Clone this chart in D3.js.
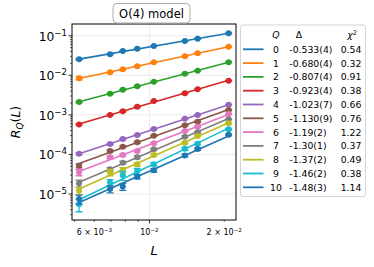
<!DOCTYPE html>
<html>
<head>
<meta charset="utf-8">
<script src="https://cdn.jsdelivr.net/npm/d3@7"></script>
<style>
  body { margin: 0; background: white; }
  svg { font-family: "DejaVu Sans", sans-serif; }
</style>
</head>
<body>
<svg></svg>
<script>
// system sizes L (1/N)
const Ls = [0.005208, 0.006944, 0.0078125, 0.008929, 0.010417, 0.013889, 0.015625, 0.020833];

// R_Q(L) for each Q
const r0 = [0.0254, 0.0339, 0.0411, 0.0469, 0.0549, 0.0735, 0.0840, 0.115];
const r1 = [0.00838, 0.01189, 0.01416, 0.01686, 0.02128, 0.03016, 0.0359, 0.0527];
const r2 = [0.00211, 0.00342, 0.00432, 0.00526, 0.00688, 0.01096, 0.01305, 0.02128];
const r3 = [0.000570, 0.000997, 0.001229, 0.001596, 0.002237, 0.00350, 0.00442, 0.00729];
const r4 = [1.042e-4, 1.83e-4, 2.45e-4, 3.09e-4, 4.39e-4, 7.99e-4, 9.9e-4, 1.804e-3];
const r5 = [5.18e-5, 1.22e-4, 1.566e-4, 2.02e-4, 2.97e-4, 5.44e-4, 6.71e-4, 1.326e-3];
const r6 = [3.53e-5, 8.45e-5, 9.66e-5, 1.22e-4, 1.91e-4, 3.9e-4, 5.01e-4, 1.05e-3];
const r7 = [1.86e-5, 4.21e-5, 6.17e-5, 8.45e-5, 1.346e-4, 2.80e-4, 3.62e-4, 7.72e-4];
const r8 = [1.21e-5, 3.53e-5, 4.04e-5, 5.62e-5, 9.66e-5, 1.98e-4, 2.92e-4, 6.11e-4];
const r9 = [5.48e-6, 1.95e-5, 2.96e-5, 3.74e-5, 5.66e-5, 1.386e-4, 1.866e-4, 4.31e-4];
const r10 = [7.46e-6, 1.336e-5, 1.545e-5, 2.73e-5, 3.97e-5, 9.39e-5, 1.37e-4, 3.15e-4];

// relative errors
const e0 = [0.03, 0.02, 0.02, 0.02, 0.02, 0.02, 0.02, 0.02];
const e1 = [0.08, 0.03, 0.03, 0.02, 0.02, 0.02, 0.02, 0.02];
const e2 = [0.04, 0.03, 0.03, 0.02, 0.02, 0.02, 0.02, 0.02];
const e3 = [0.04, 0.03, 0.03, 0.03, 0.02, 0.02, 0.02, 0.02];
const e4 = [0.06, 0.04, 0.04, 0.03, 0.03, 0.02, 0.02, 0.02];
const e5 = [0.12, 0.06, 0.05, 0.05, 0.04, 0.03, 0.03, 0.03];
const e6 = [0.18, 0.08, 0.07, 0.06, 0.05, 0.04, 0.04, 0.03];
const e7 = [0.2, 0.1, 0.08, 0.07, 0.06, 0.05, 0.04, 0.03];
const e8 = [0.2, 0.18, 0.15, 0.1, 0.08, 0.06, 0.05, 0.04];
const e9 = [0.35, 0.18, 0.25, 0.18, 0.1, 0.08, 0.07, 0.05];
const e10 = [0.25, 0.2, 0.2, 0.12, 0.1, 0.08, 0.07, 0.05];

const qLabels = ['0', '1', '2', '3', '4', '5', '6', '7', '8', '9', '10'];
const deltaLabels = ['-0.533(4)', '-0.680(4)', '-0.807(4)', '-0.923(4)', '-1.023(7)', '-1.130(9)',
    '-1.19(2)', '-1.30(1)', '-1.37(2)', '-1.46(2)', '-1.48(3)'];
const chi2Labels = ['0.54', '0.32', '0.91', '0.38', '0.66', '0.76', '1.22', '0.37', '0.49', '0.38', '1.14'];

const yTicks = [1e-1, 1e-2, 1e-3, 1e-4, 1e-5];
const yTickExp = ['−1', '−2', '−3', '−4', '−5'];
const xMinorTicks = [5e-3, 6e-3, 7e-3, 8e-3, 9e-3, 2e-2];
const xLabelTicks = [6e-3, 1e-2, 2e-2];
const xLabelPre = ['6 \u00d7 10', '10', '2 \u00d7 10'];
const xLabelExp = ['−3', '−2', '−2'];

const colors = ['#1f77b4', '#ff7f0e', '#2ca02c', '#d62728', '#9467bd', '#8c564b',
    '#e377c2', '#7f7f7f', '#bcbd22', '#17becf', '#1f77b4'];

const rs = [r0, r1, r2, r3, r4, r5, r6, r7, r8, r9, r10];
const es = [e0, e1, e2, e3, e4, e5, e6, e7, e8, e9, e10];

const width = 374;
const height = 267;
const plotLeft = 72, plotRight = 236, plotTop = 24, plotBottom = 220;

let svg = d3.select('svg').attr('width', width).attr('height', height);

let xScale = d3.scaleLog().domain([4.879e-3, 0.0223]).range([plotLeft, plotRight]);
let yScale = d3.scaleLog().domain([2.203e-6, 0.1977]).range([plotBottom, plotTop]);

// grid
svg.selectAll('.hgrid')
    .data(yTicks)
    .enter()
    .append('line')
    .attr('x1', plotLeft).attr('x2', plotRight)
    .attr('y1', d => yScale(d)).attr('y2', d => yScale(d))
    .attr('stroke', '#e6e6e6').attr('stroke-width', 0.8);

svg.append('line')
    .attr('x1', xScale(1e-2)).attr('x2', xScale(1e-2))
    .attr('y1', plotTop).attr('y2', plotBottom)
    .attr('stroke', '#e6e6e6').attr('stroke-width', 0.8);

// fit lines (least squares in log-log)
let fitLine = (vals) => {
    let lx = Ls.map(Math.log10), ly = vals.map(Math.log10);
    let mx = d3.mean(lx), my = d3.mean(ly);
    let sxy = d3.sum(lx, (v, i) => (v - mx) * (ly[i] - my));
    let sxx = d3.sum(lx, v => (v - mx) * (v - mx));
    let b = sxy / sxx, a = my - b * mx;
    let ends = [Ls[0], Ls[Ls.length - 1]];
    return ends.map(l => [l, Math.pow(10, a + b * Math.log10(l))]);
};

rs.forEach((vals, q) => {
    let g = svg.append('g');
    let pts = fitLine(vals);
    g.append('line')
        .attr('x1', xScale(pts[0][0])).attr('y1', yScale(pts[0][1]))
        .attr('x2', xScale(pts[1][0])).attr('y2', yScale(pts[1][1]))
        .attr('stroke', colors[q]).attr('stroke-width', 1.6);

    let data = vals.map((v, i) => ({ l: Ls[i], v: v, e: es[q][i] * v }));

    g.selectAll('.eb')
        .data(data)
        .enter()
        .append('path')
        .attr('d', d => {
            let x = xScale(d.l), y1 = yScale(d.v + d.e), y2 = yScale(Math.max(d.v - d.e, 1e-9));
            return `M${x},${y1}V${y2}M${x - 3.5},${y1}H${x + 3.5}M${x - 3.5},${y2}H${x + 3.5}`;
        })
        .attr('stroke', colors[q]).attr('stroke-width', 1.3).attr('fill', 'none');

    g.selectAll('circle')
        .data(data)
        .enter()
        .append('circle')
        .attr('cx', d => xScale(d.l))
        .attr('cy', d => yScale(d.v))
        .attr('r', 3)
        .attr('fill', colors[q]);
});

// frame
svg.append('rect')
    .attr('x', plotLeft).attr('y', plotTop)
    .attr('width', plotRight - plotLeft).attr('height', plotBottom - plotTop)
    .attr('fill', 'none').attr('stroke', 'black').attr('stroke-width', 1);

// y ticks
let yMinor = [];
for (let p = -6; p <= -1; p++) {
    for (let m = 2; m <= 9; m++) {
        let v = m * Math.pow(10, p);
        if (v > yScale.domain()[0] && v < yScale.domain()[1]) yMinor.push(v);
    }
}
svg.selectAll('.ymin')
    .data(yMinor)
    .enter()
    .append('line')
    .attr('x1', plotLeft - 2).attr('x2', plotLeft)
    .attr('y1', d => yScale(d)).attr('y2', d => yScale(d))
    .attr('stroke', 'black').attr('stroke-width', 0.6);

svg.selectAll('.ymaj')
    .data(yTicks)
    .enter()
    .append('line')
    .attr('x1', plotLeft - 3.5).attr('x2', plotLeft)
    .attr('y1', d => yScale(d)).attr('y2', d => yScale(d))
    .attr('stroke', 'black').attr('stroke-width', 0.8);

let yLab = svg.selectAll('.ylab')
    .data(yTicks)
    .enter()
    .append('text')
    .attr('x', 67)
    .attr('y', d => yScale(d) + 5)
    .attr('text-anchor', 'end')
    .attr('font-size', 12.3);
yLab.append('tspan').text('10');
yLab.append('tspan').attr('dy', -5).attr('font-size', 8.6).text((d, i) => yTickExp[i]);

// x ticks
svg.selectAll('.xmin')
    .data(xMinorTicks)
    .enter()
    .append('line')
    .attr('x1', d => xScale(d)).attr('x2', d => xScale(d))
    .attr('y1', plotBottom).attr('y2', plotBottom + 2)
    .attr('stroke', 'black').attr('stroke-width', 0.6);

svg.append('line')
    .attr('x1', xScale(1e-2)).attr('x2', xScale(1e-2))
    .attr('y1', plotBottom).attr('y2', plotBottom + 3.5)
    .attr('stroke', 'black').attr('stroke-width', 0.8);

let xLab = svg.selectAll('.xlab')
    .data(xLabelTicks)
    .enter()
    .append('text')
    .attr('x', d => xScale(d))
    .attr('y', 235)
    .attr('text-anchor', 'middle')
    .attr('font-size', 8);
xLab.append('tspan').text((d, i) => xLabelPre[i]);
xLab.append('tspan').attr('dy', -3.5).attr('font-size', 5.6).text((d, i) => xLabelExp[i]);

// axis labels
svg.append('text')
    .attr('x', (plotLeft + plotRight) / 2)
    .attr('y', 255)
    .attr('text-anchor', 'middle')
    .attr('font-size', 13)
    .attr('font-style', 'italic')
    .text('L');

let yTitle = svg.append('text')
    .attr('transform', 'translate(20,122) rotate(-90)')
    .attr('text-anchor', 'middle')
    .attr('font-size', 12.5);
yTitle.append('tspan').attr('font-style', 'italic').text('R');
yTitle.append('tspan').attr('font-style', 'italic').attr('font-size', 9).attr('dy', 3).text('Q');
yTitle.append('tspan').attr('dy', -3).text('(');
yTitle.append('tspan').attr('font-style', 'italic').text('L');
yTitle.append('tspan').text(')');

// title box
svg.append('rect')
    .attr('x', 113).attr('y', 3.5)
    .attr('width', 77).attr('height', 19.5)
    .attr('rx', 4)
    .attr('fill', 'white').attr('stroke', '#aaa').attr('stroke-width', 1);
svg.append('text')
    .attr('x', 151.5).attr('y', 17.5)
    .attr('text-anchor', 'middle')
    .attr('font-size', 11.5)
    .text('O(4) model');

// legend
let leg = svg.append('g');
leg.append('rect')
    .attr('x', 240.5).attr('y', 25)
    .attr('width', 125).attr('height', 171.5)
    .attr('rx', 2.5)
    .attr('fill', 'white').attr('stroke', '#d5d5d5').attr('stroke-width', 1);

let hdr = leg.append('g').attr('font-size', 9.3);
hdr.append('text').attr('x', 276).attr('y', 38).attr('text-anchor', 'middle')
    .attr('font-style', 'italic').text('Q');
hdr.append('text').attr('x', 299).attr('y', 38).attr('text-anchor', 'middle').text('Δ');
let chiH = hdr.append('text').attr('x', 352).attr('y', 38).attr('text-anchor', 'middle');
chiH.append('tspan').attr('font-style', 'italic').text('χ');
chiH.append('tspan').attr('dy', -3.5).attr('font-size', 6.5).text('2');

let rowY = (i) => 49.3 + i * 13.8;

leg.selectAll('.lline')
    .data(qLabels)
    .enter()
    .append('line')
    .attr('x1', 243).attr('x2', 263.5)
    .attr('y1', (d, i) => rowY(i)).attr('y2', (d, i) => rowY(i))
    .attr('stroke', (d, i) => colors[i]).attr('stroke-width', 1.8);

leg.selectAll('.lq')
    .data(qLabels)
    .enter()
    .append('text')
    .attr('x', 276).attr('y', (d, i) => rowY(i) + 3.4)
    .attr('text-anchor', 'middle')
    .attr('font-size', 9.3)
    .text(d => d);

leg.selectAll('.ld')
    .data(deltaLabels)
    .enter()
    .append('text')
    .attr('x', 289.3).attr('y', (d, i) => rowY(i) + 3.4)
    .attr('font-size', 9.3)
    .text(d => d);

leg.selectAll('.lc')
    .data(chi2Labels)
    .enter()
    .append('text')
    .attr('x', 351).attr('y', (d, i) => rowY(i) + 3.4)
    .attr('text-anchor', 'middle')
    .attr('font-size', 9.3)
    .text(d => d);
</script>
</body>
</html>
